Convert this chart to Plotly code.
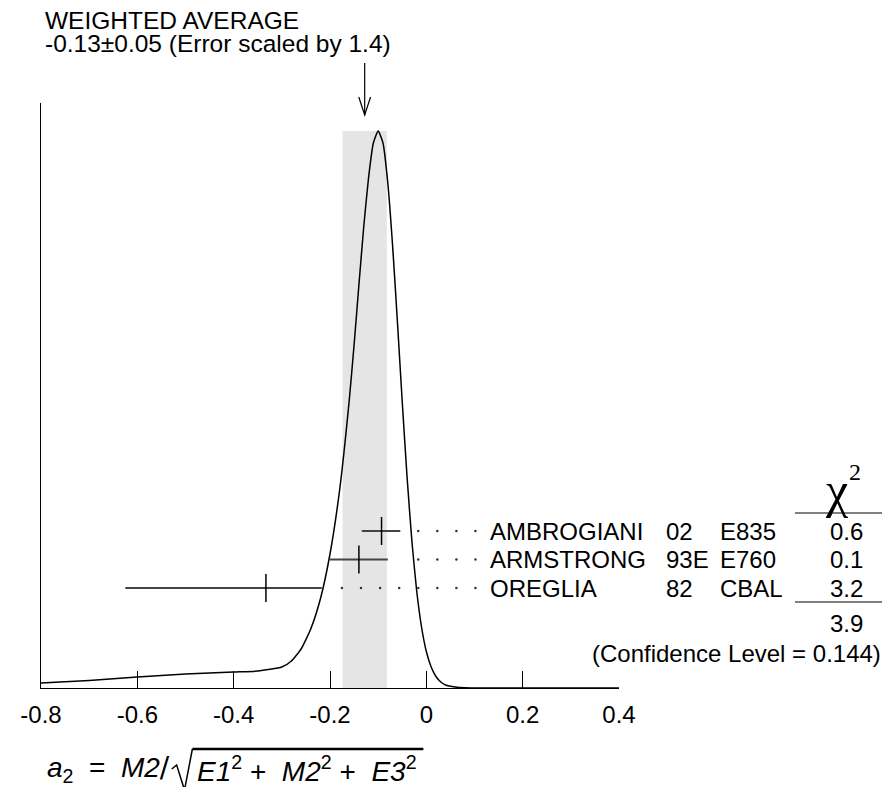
import plotly.graph_objects as go

# ---------------- data ----------------
experiments = ["AMBROGIANI", "ARMSTRONG", "OREGLIA"]
years = ["02", "93E", "82"]
detectors = ["E835", "E760", "CBAL"]
values = [-0.093, -0.14, -0.333]
err_plus = [0.039, 0.06, 0.116]
err_minus = [0.041, 0.06, 0.292]
chi2 = ["0.6", "0.1", "3.2"]
chi2_total = "3.9"
confidence_level = "0.144"
avg_value = -0.128
avg_error = 0.046
avg_title = "WEIGHTED AVERAGE"
avg_label = "-0.13\u00b10.05 (Error scaled by 1.4)"

# ideogram curve (x, height in plot units)
curve_x = [-0.80, -0.70, -0.60, -0.50, -0.40, -0.35, -0.30, -0.28, -0.26, -0.24,
           -0.22, -0.20, -0.18, -0.16, -0.15, -0.14, -0.13, -0.12, -0.11, -0.10,
           -0.09, -0.08, -0.07, -0.06, -0.05, -0.04, -0.03, -0.02, -0.01, 0.00,
           0.01, 0.02, 0.03, 0.04, 0.06, 0.08, 0.10, 0.20, 0.40]
curve_h = [5, 7.5, 11, 14, 16, 17, 21, 27, 39, 59,
           89, 134, 198, 288, 343, 403, 461, 510, 545, 557,
           545, 505, 442, 366, 286, 211, 147, 97, 61, 36.5,
           21, 11.5, 6, 3, 1, 0.3, 0.1, 0, 0]

tick_vals = [-0.8, -0.6, -0.4, -0.2, 0, 0.2, 0.4]
tick_text = ["-0.8", "-0.6", "-0.4", "-0.2", "0", "0.2", "0.4"]

# ---------------- layout helpers ----------------
OFF = 8                     # page body margin
W, H = 890 - 2 * OFF, 795 - 2 * OFF
L, R, T, B = 31, 619, 103, 688   # plot area in window pixels
XMIN, XMAX = -0.8, 0.4
YMAX = B - T
FONT = "Liberation Sans, Arial, sans-serif"
SERIF = "Liberation Serif, Times New Roman, serif"
FS = 24


def pxx(p):
    return (p - L) / (R - L)


def pxy(p):
    return (B - p) / (B - T)


def dx(v):
    return (v - XMIN) / (XMAX - XMIN)


row_h = [157 - i * 28.5 for i in range(len(values))]

fig = go.Figure()

# ideogram curve
fig.add_trace(go.Scatter(
    x=curve_x, y=curve_h, mode="lines",
    line=dict(color="black", width=1.5, shape="spline", smoothing=0.5),
    hoverinfo="skip", showlegend=False))

# dotted leaders
dot_last = 0.102
dot_step = 0.0396
for v, ep, h in zip(values, err_plus, row_h):
    xs = []
    d = dot_last
    while d > v + ep + 0.03:
        xs.append(d)
        d -= dot_step
    fig.add_trace(go.Scatter(
        x=xs, y=[h] * len(xs), mode="markers",
        marker=dict(size=2.5, color="#333"),
        hoverinfo="skip", showlegend=False))

# measurements
fig.add_trace(go.Scatter(
    x=values, y=row_h, mode="markers",
    marker=dict(symbol="line-ns", size=20, color="black",
                line=dict(width=1.5, color="black")),
    error_x=dict(type="data", symmetric=False, array=err_plus,
                 arrayminus=err_minus, color="#444", thickness=2, width=0),
    hoverinfo="skip", showlegend=False))

shapes = []
# weighted average band
shapes.append(dict(type="rect", xref="x", yref="y",
                   x0=avg_value - avg_error, x1=avg_value + avg_error,
                   y0=0, y1=max(curve_h), fillcolor="#e5e5e5",
                   line=dict(width=0), layer="below"))
# arrow
ax = dx(avg_value)
shapes.append(dict(type="line", xref="paper", yref="paper",
                   x0=ax, x1=ax, y0=pxy(63), y1=pxy(115),
                   line=dict(color="black", width=1.2)))
hw = 6 / (R - L)
shapes.append(dict(type="path", xref="paper", yref="paper",
                   path=f"M {ax - hw},{pxy(97)} L {ax},{pxy(115)} L {ax + hw},{pxy(97)}",
                   line=dict(color="black", width=1.2)))
# chi2 lines
for yl in (513, 602):
    shapes.append(dict(type="line", xref="paper", yref="paper",
                       x0=pxx(798), x1=pxx(888), y0=pxy(yl), y1=pxy(yl),
                       line=dict(color="black", width=1.2)))
# radical
shapes.append(dict(type="path", xref="paper", yref="paper",
                   path=(f"M {pxx(164)},{pxy(769)} L {pxx(169)},{pxy(765)} "
                         f"L {pxx(177)},{pxy(790)} L {pxx(185)},{pxy(749)}"),
                   line=dict(color="black", width=1.5)))
shapes.append(dict(type="line", xref="paper", yref="paper",
                   x0=pxx(185), x1=pxx(420), y0=pxy(749), y1=pxy(749),
                   line=dict(color="black", width=2.5)))

ann = []


def text(x, y, s, anchor="left", size=FS, family=FONT):
    ann.append(dict(x=pxx(x), y=pxy(y), xref="paper", yref="paper",
                    text=s, showarrow=False, xanchor=anchor, yanchor="middle",
                    font=dict(family=family, size=size, color="black")))


text(33, 20, avg_title, size=24.5)
text(33, 44, avg_label, size=24.5)

for i in range(len(values)):
    py = B - row_h[i]
    text(486, py, experiments[i])
    text(665, py, years[i])
    text(720, py, detectors[i])
    text(850, py, chi2[i], anchor="center")

text(840, 490, "\u03c7", anchor="center", size=50, family=SERIF)
text(859, 472, "2", anchor="center", size=24, family=SERIF)
text(850, 623, chi2_total, anchor="center")
text(888, 653, f"(Confidence Level = {confidence_level})", anchor="right")

# formula
text(35, 769, "<i>a</i><sub>2</sub>\u00a0\u00a0=\u00a0\u00a0<i>M2</i>"
     "<span style='font-family:DejaVu Sans'>/</span>", size=28)
text(188, 769, "<i>E1</i><sup>2</sup>\u00a0+\u00a0\u00a0<i>M2</i><sup>2</sup>"
     "\u00a0+\u00a0\u00a0<i>E3</i><sup>2</sup>", size=28)

fig.update_layout(
    width=W, height=H, autosize=False,
    margin=dict(l=L - OFF, r=W - (R - OFF), t=T - OFF, b=H - (B - OFF), pad=0),
    paper_bgcolor="white", plot_bgcolor="white",
    showlegend=False, shapes=shapes, annotations=ann,
    xaxis=dict(range=[XMIN, XMAX], showgrid=False, zeroline=False,
               showline=True, linecolor="black", linewidth=1.2,
               ticks="inside", ticklen=17, tickwidth=1.2, tickcolor="black",
               tickvals=tick_vals, ticktext=tick_text, ticklabelstandoff=5,
               tickfont=dict(family=FONT, size=FS, color="black")),
    yaxis=dict(range=[0, YMAX], showgrid=False, zeroline=False,
               showline=True, linecolor="black", linewidth=1.2,
               showticklabels=False, ticks=""),
)

fig.write_html("out.html")
